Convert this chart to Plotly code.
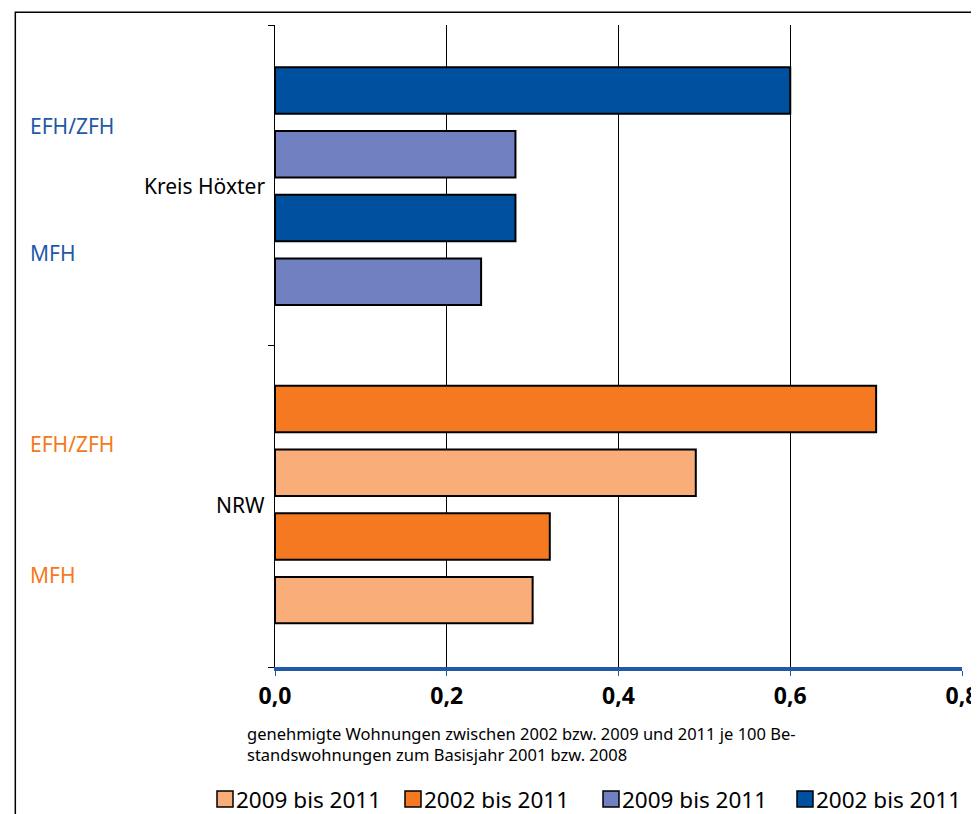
import plotly.graph_objects as go

# rows from top: Höxter 0-3, NRW 5-8
pos_hx_2002 = [0, 2]
pos_hx_2009 = [1, 3]
pos_nrw_2002 = [5, 7]
pos_nrw_2009 = [6, 8]
hx_2002 = [0.60, 0.28]
hx_2009 = [0.28, 0.24]
nrw_2002 = [0.70, 0.32]
nrw_2009 = [0.49, 0.30]

series = [
    ("2009 bis 2011", nrw_2009, pos_nrw_2009, "#F9AD78"),
    ("2002 bis 2011", nrw_2002, pos_nrw_2002, "#F47920"),
    ("2009 bis 2011", hx_2009, pos_hx_2009, "#7080C0"),
    ("2002 bis 2011", hx_2002, pos_hx_2002, "#0050A0"),
]

fig = go.Figure()
for name, vals, ys, col in series:
    fig.add_trace(go.Bar(x=vals, y=ys, name=name, orientation="h", width=0.73,
                         marker=dict(color=col, line=dict(color="black", width=2))))

font = "Noto Sans"
pw, ph = 687, 642  # plot area in px
shapes = [dict(type="rect", xref="paper", yref="paper", x0=-0.378, x1=1.017,
               y0=-0.3, y1=1.02, line=dict(color="black", width=1.5))]

# hand-made legend along the bottom (x in page px)
leg_x = [217, 405, 603, 797]
for (name, _, _, col), lx in zip(series, leg_x):
    x0 = (lx - 275) / pw
    shapes.append(dict(type="rect", xref="paper", yref="paper",
                       x0=x0, x1=x0 + 16 / pw, y0=-(791 - 667) / ph, y1=-(807 - 667) / ph,
                       fillcolor=col, line=dict(color="black", width=1.5)))
    fig.add_annotation(text=name, x=x0 + 17 / pw, xref="paper", xanchor="left",
                       y=-(799 - 667) / ph, yref="paper", yanchor="middle",
                       showarrow=False, font=dict(size=22.5))

fig.update_layout(
    width=971, height=806, plot_bgcolor="white", paper_bgcolor="white",
    margin=dict(l=267, r=17, t=17, b=147),
    separators=",.", showlegend=False, barmode="overlay",
    font=dict(family=font, color="black"),
    xaxis=dict(range=[0, 0.8], dtick=0.2, tickformat=".1f", showgrid=True,
               gridcolor="black", gridwidth=1, showline=True, linecolor="#1F5AA6",
               linewidth=4, ticks="outside", tickcolor="#1F5AA6", ticklen=5,
               tickfont=dict(size=23, family=font, color="black", weight="bold"),
               zeroline=False, automargin=False),
    yaxis=dict(range=[9.05, -1.03], tickvals=[-1.03, 4, 9.05], ticktext=["", "", ""],
               ticks="outside", ticklen=6, tickcolor="black", showgrid=False,
               showline=True, linecolor="black", linewidth=1, zeroline=False,
               automargin=False),
    shapes=shapes,
)

for t, y in [("Kreis Höxter", 1.5), ("NRW", 6.5)]:
    fig.add_annotation(text=t, x=0, xref="paper", xshift=-8, xanchor="right",
                       y=y, yref="y", showarrow=False, font=dict(size=21))
side = [("EFH/ZFH", 0.55, "#1F5AA6"), ("MFH", 2.55, "#1F5AA6"),
        ("EFH/ZFH", 5.55, "#F47920"), ("MFH", 7.6, "#F47920")]
for t, y, c in side:
    fig.add_annotation(text=t, x=-0.36, xref="paper", xanchor="left", y=y, yref="y",
                       showarrow=False, font=dict(size=21, color=c))
fig.add_annotation(text="genehmigte Wohnungen zwischen 2002 bzw. 2009 und 2011 je 100 Be-<br>"
                        "standswohnungen zum Basisjahr 2001 bzw. 2008",
                   x=-0.044, xref="paper", xanchor="left", y=-0.083, yref="paper",
                   yanchor="top", align="left", showarrow=False, font=dict(size=16.5))

fig.write_html("out.html")
